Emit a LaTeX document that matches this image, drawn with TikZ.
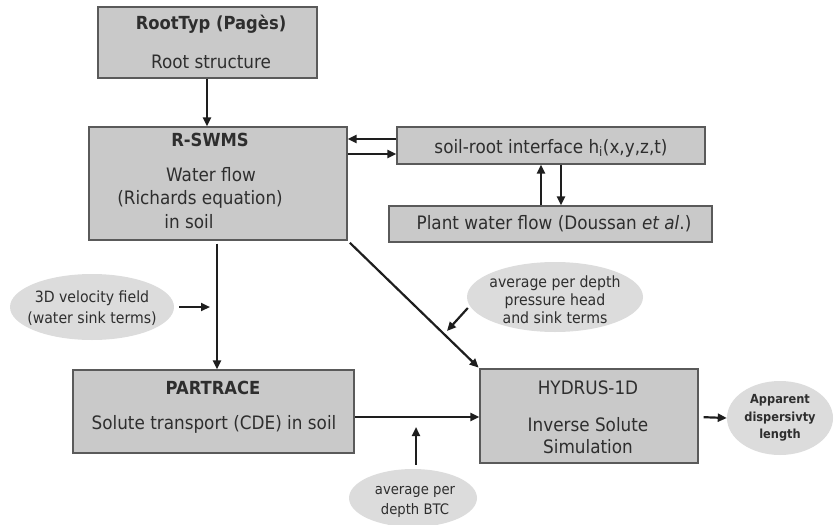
\documentclass[tikz,border=0pt]{standalone}
\usepackage{fontspec}
\setmainfont{DejaVu Sans}[FakeStretch=0.91]
\usetikzlibrary{arrows.meta,shapes.geometric,calc}
\definecolor{boxfill}{HTML}{C9C9C9}
\definecolor{boxline}{HTML}{5A5A5A}
\definecolor{ellfill}{HTML}{DCDCDC}
\definecolor{txt}{HTML}{2E2E2E}
\definecolor{arrcol}{HTML}{1E1E1E}
\tikzset{
  box/.style={draw=boxline, line width=1.3pt, fill=boxfill, rectangle, inner sep=0pt},
  oval/.style={ellipse, fill=ellfill, draw=none, inner sep=0pt},
  lbl/.style={text=txt, inner sep=0pt, font=\fontsize{18.5}{22}\selectfont},
  blbl/.style={lbl, font=\fontsize{18}{22}\selectfont\bfseries},
  slbl/.style={text=txt, inner sep=0pt, align=center, font=\fontsize{15}{19}\selectfont},
  arr/.style={draw=arrcol, line width=2.2pt, -{Triangle[length=9pt,width=8pt]}},
}
\begin{document}
\begin{tikzpicture}[x=1pt,y=-1pt]
\useasboundingbox (0,0) rectangle (836,525);
% boxes
\node[box, minimum width=219pt, minimum height=71pt] (root) at (207.5,42.5) {};
\node[box, minimum width=258pt, minimum height=113pt] (rswms) at (218,183.5) {};
\node[box, minimum width=308pt, minimum height=37pt] (soil) at (551,145.5) {};
\node[box, minimum width=323pt, minimum height=36pt] (plant) at (550.5,224) {};
\node[box, minimum width=281pt, minimum height=83pt] (partrace) at (213.5,411.5) {};
\node[box, minimum width=218pt, minimum height=94pt] (hydrus) at (589,416) {};
% ellipses
\node[oval, minimum width=164pt, minimum height=66pt] (vel) at (92,307) {};
\node[oval, minimum width=176pt, minimum height=70pt] (press) at (555,297) {};
\node[oval, minimum width=128pt, minimum height=58pt] (btc) at (413,498) {};
\node[oval, minimum width=106pt, minimum height=74pt] (app) at (780,418) {};
% texts
\node[blbl] (t1) at (211,24) {RootTyp (Pagès)};
\node[lbl] (t2) at (211,62) {Root structure};
\node[blbl] (t3) at (210,140) {R-SWMS};
\node[lbl] (t4) at (211,175) {Water flow};
\node[lbl] (t5) at (200,199) {(Richards equation)};
\node[lbl] (t6) at (189,222) {in soil};
\node[lbl] (t7) at (551,148) {soil-root interface h\textsubscript{i}(x,y,z,t)};
\node[lbl] (t8) at (554,224) {Plant water flow (Doussan \textit{et al}.)};
\node[blbl] (t9) at (213,388) {PARTRACE};
\node[lbl] (t10) at (214,424) {Solute transport (CDE) in soil};
\node[lbl] (t11) at (588,388) {HYDRUS-1D};
\node[lbl, align=center, font=\fontsize{18.5}{22}\selectfont] (t12) at (588,436) {Inverse Solute\\Simulation};
\node[slbl, font=\fontsize{15.5}{21}\selectfont] (t13) at (92,308) {3D velocity field\\(water sink terms)};
\node[slbl, font=\fontsize{15.5}{18}\selectfont] (t14) at (555,300) {average per depth\\pressure head\\and sink terms};
\node[slbl, font=\fontsize{14.5}{20}\selectfont] (t15) at (415,502) {average per\\depth BTC};
\node[slbl, font=\fontsize{12.5}{17.5}\selectfont\bfseries] (t16) at (780,418) {Apparent\\dispersivty\\length};
% free ends
\coordinate (velend) at (210,307);
\coordinate (pressend) at (447,331);
\coordinate (btcend) at (416,427);
% connectors
\draw[arr] (root.south -| 207,0) -- (rswms.north -| 207,0);
\draw[arr] (soil.west |- 0,139) -- (rswms.east |- 0,139);
\draw[arr] (rswms.east |- 0,154) -- (soil.west |- 0,154);
\draw[arr] (plant.north -| 541,0) -- (soil.south -| 541,0);
\draw[arr] (soil.south -| 561,0) -- (plant.north -| 561,0);
\draw[arr, shorten <=3pt] (rswms.south -| 217,0) -- (partrace.north -| 217,0);
\draw[arr, shorten <=5pt] (vel.east) -- (velend);
\draw[arr, shorten <=3pt, shorten >=1pt] (rswms.south east) -- (hydrus.north west);
\draw[arr] ($(press.west)+(1,11)$) -- (pressend);
\draw[arr] (partrace.east |- 0,417) -- (hydrus.west |- 0,417);
\draw[arr, shorten <=4pt] (btc.north -| 416,0) -- (btcend);
\draw[arr, shorten <=5pt] (hydrus.east |- 0,417) -- (app.west);
\end{tikzpicture}
\end{document}
